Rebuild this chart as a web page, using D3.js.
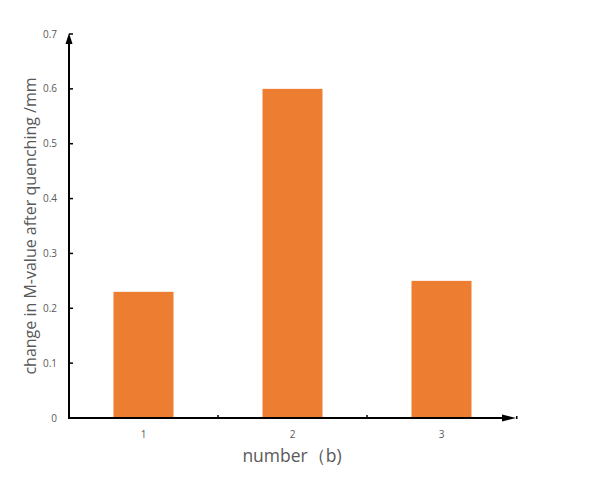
<!DOCTYPE html>
<html><head><meta charset="utf-8">
<script src="https://cdn.jsdelivr.net/npm/d3@7"></script>
<style>body{margin:0;background:#fff;}svg{display:block;font-family:"Open Sans","DejaVu Sans",sans-serif;}</style>
</head><body>
<svg id="c" width="600" height="483"></svg>
<script>
const categories = ["1","2","3"];
const values = [0.23, 0.60, 0.25];
const yTicks = [0,0.1,0.2,0.3,0.4,0.5,0.6,0.7];
const yTitle = "change in M-value after quenching /mm";
const xTitle = "number（b)";

const svg = d3.select("#c");
const x0 = 69, x1 = 516, yBot = 418, yTop = 34;
const xb = d3.scaleBand().domain(categories).range([x0, x1]);
const y = d3.scaleLinear().domain([0, 0.7]).range([yBot, yTop]);

svg.append("g").selectAll("rect").data(values).join("rect")
  .attr("x", (d,i)=>xb(categories[i]) + xb.bandwidth()/2 - 30)
  .attr("width", 60)
  .attr("y", d=>y(d)).attr("height", d=>yBot - y(d))
  .attr("fill", "#ED7D31");

// y axis
const gy = svg.append("g");
gy.append("line").attr("x1",x0).attr("x2",x0).attr("y1",yBot+1).attr("y2",yTop+2).attr("stroke","#000").attr("stroke-width",2);
gy.append("path").attr("d",`M${x0-3.5},${yTop+10} L${x0},${yTop-1} L${x0+3.5},${yTop+10} Z`).attr("fill","#000");
gy.selectAll("line.t").data(yTicks.filter(d=>d>0)).join("line").attr("class","t")
  .attr("x1",x0).attr("x2",x0+4).attr("y1",d=>y(d)).attr("y2",d=>y(d)).attr("stroke","#000").attr("stroke-width",1.5);
gy.selectAll("text").data(yTicks).join("text")
  .attr("x",57).attr("y",d=>y(d)).attr("dy","0.35em").attr("text-anchor","end")
  .attr("font-size",10).attr("fill","#595959").text(d=>d===0?"0":d3.format(".1f")(d));

// x axis
const gx = svg.append("g");
gx.append("line").attr("x1",x0-1).attr("x2",x1-6).attr("y1",yBot).attr("y2",yBot).attr("stroke","#000").attr("stroke-width",2);
gx.append("path").attr("d",`M${x1-14},${yBot-3.5} L${x1},${yBot} L${x1-14},${yBot+3.5} Z`).attr("fill","#000");
gx.selectAll("line.t").data(categories.slice(1)).join("line").attr("class","t")
  .attr("x1",d=>xb(d)).attr("x2",d=>xb(d)).attr("y1",yBot).attr("y2",yBot-3).attr("stroke","#000").attr("stroke-width",1.5);
gx.append("rect").attr("x",x1).attr("y",yBot-2).attr("width",1.5).attr("height",3).attr("fill","#000");
gx.selectAll("text").data(categories).join("text")
  .attr("x",d=>xb(d)+xb.bandwidth()/2).attr("y",438).attr("text-anchor","middle")
  .attr("font-size",10).attr("fill","#595959").text(d=>d);

svg.append("text").attr("x",292).attr("y",462).attr("text-anchor","middle")
  .attr("font-size",17.5).attr("fill","#595959").text(xTitle);
svg.append("text").attr("transform","translate(36,226) rotate(-90)").attr("text-anchor","middle")
  .attr("font-size",16).attr("fill","#595959").text(yTitle);
</script>
</body></html>
